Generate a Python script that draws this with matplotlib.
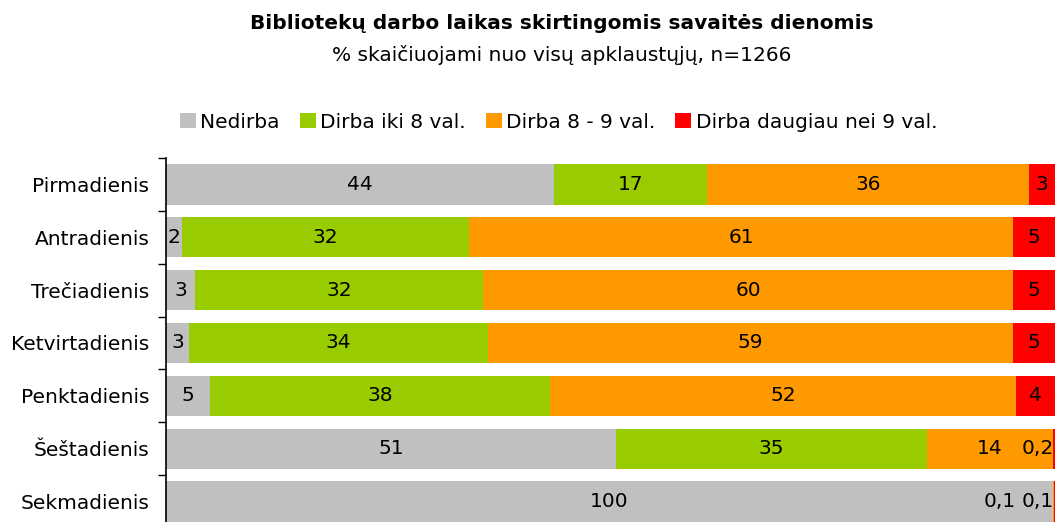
import matplotlib.pyplot as plt
import numpy as np

days = ["Pirmadienis", "Antradienis", "Trečiadienis", "Ketvirtadienis",
        "Penktadienis", "Šeštadienis", "Sekmadienis"]
nedirba = [43.6, 1.8, 3.3, 2.6, 4.9, 50.6, 99.8]
iki8 = [17.3, 32.3, 32.4, 33.6, 38.3, 35.0, 0.0]
nuo8iki9 = [36.2, 61.2, 59.6, 59.1, 52.4, 14.2, 0.1]
daugiau9 = [2.9, 4.7, 4.7, 4.7, 4.4, 0.2, 0.1]

series = [nedirba, iki8, nuo8iki9, daugiau9]
labels = ["Nedirba", "Dirba iki 8 val.", "Dirba 8 - 9 val.", "Dirba daugiau nei 9 val."]
colors = ["#C0C0C0", "#99CC00", "#FF9900", "#FF0000"]

FS = 14.5


def fmt(v):
    if v < 1:
        return f"{v:.1f}".replace(".", ",")
    return str(int(round(v)))


fig = plt.figure(figsize=(10.64, 5.22), dpi=100)
ax = fig.add_axes([166 / 1064, -6 / 522, 889 / 1064, 370 / 522])

y = np.arange(len(days))
left = np.zeros(len(days))
for vals, lab, col in zip(series, labels, colors):
    vals = np.array(vals)
    ax.barh(y, vals, left=left, height=0.76, color=col, label=lab)
    left = left + vals

# value labels
for i in range(len(days)):
    start = 0.0
    small = []
    for vals in series:
        v = vals[i]
        if v >= 1:
            ax.text(start + v / 2, i, fmt(v), ha="center", va="center", fontsize=FS)
        elif v > 0:
            small.append(v)
        start += v
    # tiny segments at the right end: stack labels leftwards from bar end
    for k, v in enumerate(reversed(small)):
        ax.annotate(fmt(v), xy=(100, i), xytext=(-1 - 27 * k, 0),
                    textcoords="offset points", ha="right", va="center", fontsize=FS)

ax.set_xlim(0, 100)
ax.set_ylim(len(days) - 0.5, -0.5)
ax.set_yticks(y)
ax.set_yticklabels(days, fontsize=FS)
ax.tick_params(axis="y", which="major", length=0, pad=12)
ax.set_yticks(np.arange(-0.5, len(days), 1), minor=True)
ax.tick_params(axis="y", which="minor", length=6, width=1, direction="out")
ax.set_xticks([])
for s in ["top", "right", "bottom"]:
    ax.spines[s].set_visible(False)
ax.spines["left"].set_linewidth(1.2)

fig.text(0.528, 1 - 24 / 522, "Bibliotekų darbo laikas skirtingomis savaitės dienomis",
         ha="center", va="center", fontsize=FS, fontweight="bold")
fig.text(0.528, 1 - 55 / 522, "% skaičiuojami nuo visų apklaustųjų, n=1266",
         ha="center", va="center", fontsize=FS)

fig.legend(loc="center", bbox_to_anchor=(0.525, 1 - 122 / 522), ncol=4, frameon=False,
           fontsize=FS, handlelength=0.8, handleheight=0.8, handletextpad=0.2,
           columnspacing=1.0)

fig.savefig("out.png", dpi=100)
